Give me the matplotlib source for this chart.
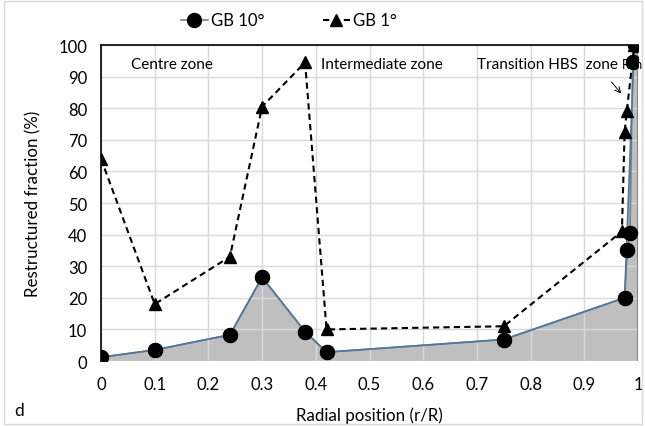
import matplotlib
matplotlib.use('Agg')
import matplotlib.pyplot as plt
import matplotlib.transforms as mtransforms
from matplotlib.patches import Rectangle

# GB 10 deg series (circles)
gb10_x = [0, 0.1, 0.24, 0.3, 0.38, 0.42, 0.75, 0.975, 0.98, 0.985, 0.99, 0.995]
gb10_y = [1.2, 3.5, 8.3, 26.5, 9.3, 2.8, 6.8, 20, 35, 40.5, 94.5, 100]

# shaded envelope drawn under GB 10 deg
area_x = [0, 0.1, 0.24, 0.3, 0.38, 0.42, 0.75, 0.975, 0.993, 1.0]
area_y = [1.2, 3.5, 8.3, 26.5, 9.3, 2.8, 6.8, 20, 100, 100]

# GB 1 deg series (triangles)
gb1_x = [0, 0.1, 0.24, 0.3, 0.38, 0.42, 0.75, 0.97, 0.975, 0.979, 0.993]
gb1_y = [64, 18, 33, 80.5, 94.5, 10, 11, 41, 72.5, 79, 100]

zones = ['Centre zone', 'Intermediate zone', 'Transition HBS  zone']
zone_x = [0.055, 0.41, 0.7]

xticks = [0, 0.1, 0.2, 0.3, 0.4, 0.5, 0.6, 0.7, 0.8, 0.9, 1]
xticklabels = ['0', '0.1', '0.2', '0.3', '0.4', '0.5', '0.6', '0.7', '0.8', '0.9', '1']
yticks = list(range(0, 101, 10))

plt.rcParams['font.family'] = ['Lato', 'DejaVu Sans']

fig = plt.figure(figsize=(6.45, 4.27), dpi=100)
ax = fig.add_axes([0.1566, 0.1522, 0.8326, 0.740])

fig.patches.append(Rectangle((0.006, 0.004), 0.99, 0.992, transform=fig.transFigure,
                             fill=False, edgecolor='#d9d9d9', linewidth=1))

ax.fill_between(area_x, area_y, 0, facecolor='#bfbfbf', edgecolor='none', zorder=1)

ax.plot(gb10_x, gb10_y, color='#7f7f7f', linewidth=1.2, marker='o', markersize=10,
        markerfacecolor='black', markeredgecolor='black', zorder=3, label='GB 10°')
ax.plot(area_x + [1.0], area_y + [0], color='#4f76a0', linewidth=1.2, zorder=3.1)
ax.plot(gb10_x, gb10_y, linestyle='none', marker='o', markersize=10,
        markerfacecolor='black', markeredgecolor='black', zorder=3.2)
ax.plot(gb1_x, gb1_y, color='black', linewidth=1.5, linestyle=(0, (3, 2)), marker='^',
        markersize=9, markerfacecolor='black', markeredgecolor='black', zorder=4,
        label='GB 1°')

ax.set_xlim(0, 1)
ax.set_ylim(0, 100)
ax.set_xticks(xticks)
ax.set_xticklabels(xticklabels)
ax.set_yticks(yticks)
ax.grid(True, color='#d9d9d9', linewidth=1)
ax.tick_params(axis='both', length=0, labelsize=12)
ax.tick_params(axis='y', pad=10)
ax.tick_params(axis='x', pad=11)

for side in ['right', 'bottom']:
    ax.spines[side].set_visible(False)
for side in ['left', 'top']:
    ax.spines[side].set_color('black')
    ax.spines[side].set_linewidth(1.2)

ax.set_xlabel('Radial position (r/R)', fontsize=12.2, labelpad=10)
ax.set_ylabel('Restructured fraction (%)', fontsize=12.2, labelpad=12)

for name, zx in zip(zones, zone_x):
    ax.text(zx, 94, name, fontsize=11, va='center', ha='left')
# rim label, squeezed against the right figure edge behind the markers
trans = mtransforms.blended_transform_factory(fig.transFigure, ax.transData)
ax.text(0.997, 94, 'Rim', fontsize=9, va='center', ha='right', zorder=2,
        clip_on=False, transform=trans)

ax.annotate('', xy=(0.972, 84), xytext=(0.947, 89),
            arrowprops=dict(arrowstyle='->', color='black', lw=0.7))

fig.text(0.022, 0.025, 'd', fontsize=12.5)

ax.legend(loc='lower center', bbox_to_anchor=(0.35, 1.0), ncol=2, frameon=False,
          fontsize=12, handlelength=1.6, handletextpad=0.2, columnspacing=3.5,
          borderaxespad=0.6)

fig.savefig('out.png', dpi=100)
